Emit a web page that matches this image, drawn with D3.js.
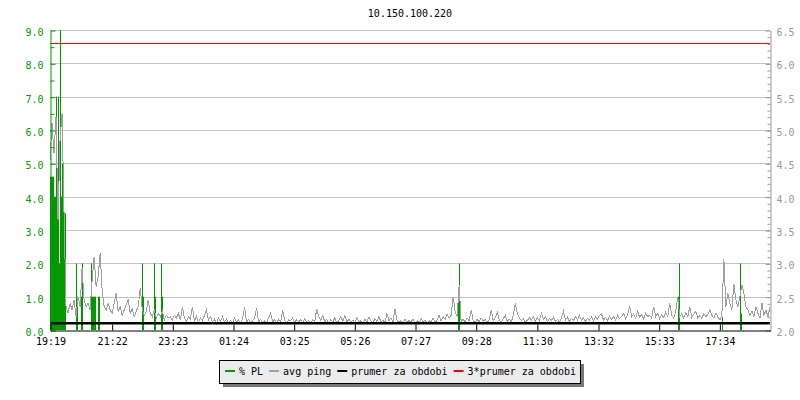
<!DOCTYPE html>
<html>
<head>
<meta charset="utf-8">
<script src="https://cdn.jsdelivr.net/npm/d3@7"></script>
<style>
  body { margin: 0; background: #fff; }
  text { font-family: "DejaVu Sans Mono", monospace; font-size: 10px; }
</style>
</head>
<body>
<div id="vis"></div>
<script>
// chart data
var title = "10.150.100.220";
var startTime = "19:19";
var spanMinutes = 1436;
var sampleStep = 4; // minutes between avg ping samples

var tickLabels = ["19:19", "21:22", "23:23", "01:24", "03:25", "05:26",
                  "07:27", "09:28", "11:30", "13:32", "15:33", "17:34"];

// avg ping (ms), one value every 4 minutes
var avgPing = [
  4.55, 5.10, 4.65, 5.20, 3.65, 4.85, 5.25, 3.75, 2.35, 2.25, 2.40, 2.30, 2.45, 2.20, 2.50, 2.35, 2.93, 2.45, 2.35, 2.40, 2.30, 2.75, 3.10, 2.65, 2.80, 3.15, 2.60, 2.35, 2.30, 2.40,
  2.30, 2.25, 2.40, 2.55, 2.28, 2.35, 2.22, 2.30, 2.38, 2.45, 2.25, 2.32, 2.20, 2.28, 2.35, 2.63, 2.30, 2.22, 2.28, 2.45, 2.25, 2.20, 2.30, 2.18, 2.25, 2.20, 2.28, 2.15, 2.22, 2.18,
  2.20, 2.15, 2.22, 2.18, 2.25, 2.15, 2.35, 2.18, 2.12, 2.20, 2.16, 2.35, 2.14, 2.20, 2.12, 2.18, 2.14, 2.22, 2.30, 2.15, 2.20, 2.12, 2.16, 2.10, 2.18, 2.13, 2.20, 2.12, 2.16, 2.11,
  2.14, 2.10, 2.18, 2.12, 2.15, 2.10, 2.17, 2.35, 2.12, 2.16, 2.10, 2.14, 2.18, 2.33, 2.12, 2.16, 2.10, 2.14, 2.11, 2.18, 2.25, 2.12, 2.15, 2.10, 2.16, 2.12, 2.30, 2.14, 2.11, 2.15,
  2.14, 2.18, 2.11, 2.16, 2.12, 2.15, 2.10, 2.17, 2.12, 2.14, 2.10, 2.16, 2.12, 2.32, 2.20, 2.14, 2.22, 2.12, 2.16, 2.10, 2.15, 2.12, 2.18, 2.11, 2.14, 2.20, 2.13, 2.22, 2.12, 2.16,
  2.12, 2.15, 2.10, 2.18, 2.12, 2.14, 2.10, 2.16, 2.12, 2.19, 2.14, 2.11, 2.17, 2.13, 2.20, 2.12, 2.15, 2.11, 2.25, 2.14, 2.18, 2.12, 2.32, 2.15, 2.11, 2.14, 2.10, 2.16, 2.12, 2.14,
  2.12, 2.16, 2.10, 2.14, 2.11, 2.17, 2.12, 2.15, 2.10, 2.14, 2.12, 2.18, 2.11, 2.15, 2.22, 2.14, 2.20, 2.16, 2.24, 2.18, 2.22, 2.50, 2.28, 2.20, 2.68, 2.12, 2.16, 2.12, 2.18, 2.14,
  2.30, 2.14, 2.11, 2.16, 2.12, 2.18, 2.13, 2.16, 2.11, 2.15, 2.30, 2.14, 2.18, 2.27, 2.15, 2.12, 2.17, 2.22, 2.13, 2.16, 2.12, 2.22, 2.40, 2.25, 2.18, 2.14, 2.17, 2.12, 2.15, 2.18,
  2.15, 2.20, 2.13, 2.18, 2.14, 2.25, 2.16, 2.20, 2.12, 2.17, 2.14, 2.19, 2.13, 2.16, 2.12, 2.18, 2.28, 2.15, 2.19, 2.13, 2.17, 2.14, 2.20, 2.15, 2.22, 2.14, 2.18, 2.13, 2.17, 2.15,
  2.19, 2.14, 2.20, 2.16, 2.22, 2.24, 2.15, 2.19, 2.14, 2.21, 2.16, 2.20, 2.15, 2.22, 2.17, 2.20, 2.25, 2.17, 2.22, 2.36, 2.20, 2.24, 2.18, 2.28, 2.19, 2.23, 2.17, 2.25, 2.20, 2.22,
  2.18, 2.35, 2.20, 2.25, 2.17, 2.23, 2.19, 2.27, 2.20, 2.40, 2.22, 2.18, 2.28, 2.50, 2.20, 2.24, 2.18, 2.26, 2.20, 2.35, 2.19, 2.24, 2.28, 2.18, 2.22, 2.17, 2.25, 2.20, 2.23, 2.30,
  2.22, 2.18, 2.25, 2.20, 2.15, 2.22, 3.07, 2.35, 2.55, 2.40, 2.30, 2.69, 2.45, 2.35, 2.50, 2.68, 2.55, 2.35, 2.30, 2.22, 2.28, 2.20, 2.35, 2.25, 2.18, 2.40, 2.22, 2.30, 2.20, 2.35
];

// packet loss (%), minutes after start where it was non zero
var plMinutes = [0, 2, 4, 6, 8, 10, 12, 14, 16, 18, 20, 22, 24, 26, 28, 30,
                 52, 54, 62, 64, 82, 84, 86, 88, 90, 96, 98,
                 184, 186, 208, 210, 222, 224,
                 814, 816, 1252, 1254, 1340, 1376, 1378];
var plValues  = [4.6, 4.6, 4.6, 4.6, 4.0, 4.0, 7.0, 4.0, 7.0, 2.0, 9.0, 4.0, 5.0, 4.0, 3.5, 3.5,
                 2.0, 1.0, 1.0, 2.0, 2.0, 1.0, 1.0, 1.0, 1.0, 1.0, 1.0,
                 2.0, 1.0, 2.0, 1.0, 2.0, 1.0,
                 1.0, 2.0, 1.0, 2.0, 0.4, 2.0, 0.5];

var periodMean = 2.1;

var legendLabels = ["% PL", "avg ping", "prumer za obdobi", "3*prumer za obdobi"];
var legendColors = ["#009900", "#a0a0a0", "#000000", "#ff0000"];

// layout
var width = 800, height = 400;
var margin = {top: 30, right: 30, bottom: 70, left: 50};
var plotRight = width - margin.right;
var plotBottom = height - margin.bottom;

var green = "#009900", gray = "#a0a0a0";

function parseHM(s) {
    var p = s.split(":");
    return new Date(2020, 0, 1, +p[0], +p[1]);
}
var t0 = parseHM(startTime);
function addMin(d, m) { return new Date(d.getTime() + m * 60000); }

var tickDates = tickLabels.map(function(s) {
    var d = parseHM(s);
    if (d < t0) d = addMin(d, 1440);
    return d;
});

var x = d3.scaleTime()
    .domain([t0, addMin(t0, spanMinutes)])
    .range([margin.left, plotRight]);
var yL = d3.scaleLinear().domain([0, 9]).range([plotBottom, margin.top]);
var yR = d3.scaleLinear().domain([2, 6.5]).range([plotBottom, margin.top]);

var svg = d3.select("#vis").append("svg")
    .attr("width", width)
    .attr("height", height);

// title
svg.append("text")
    .attr("x", (margin.left + plotRight) / 2)
    .attr("y", 16.5)
    .attr("text-anchor", "middle")
    .attr("fill", "#000")
    .text(title);

// horizontal grid
svg.append("g")
    .selectAll("line")
    .data(d3.range(1, 10))
    .enter().append("line")
    .attr("x1", margin.left)
    .attr("x2", plotRight)
    .attr("y1", function(d) { return Math.round(yL(d)) + 0.5; })
    .attr("y2", function(d) { return Math.round(yL(d)) + 0.5; })
    .attr("stroke", "#c4c4c4");

// packet loss bars
svg.append("g")
    .selectAll("rect")
    .data(plMinutes.map(function(m, i) { return {t: addMin(t0, m), v: plValues[i]}; }))
    .enter().append("rect")
    .attr("x", function(d) { return Math.round(x(d.t)); })
    .attr("width", 1)
    .attr("y", function(d) { return yL(d.v); })
    .attr("height", function(d) { return yL(0) - yL(d.v); })
    .attr("fill", green);

// avg ping line
var pingLine = d3.line()
    .x(function(d, i) { return x(addMin(t0, i * sampleStep)); })
    .y(function(d) { return yR(d); });

svg.append("path")
    .datum(avgPing)
    .attr("d", pingLine)
    .attr("fill", "none")
    .attr("stroke", gray)
    .attr("stroke-width", 1)
    .attr("shape-rendering", "crispEdges");

// mean and 3*mean
svg.append("line")
    .attr("x1", margin.left).attr("x2", plotRight)
    .attr("y1", yR(periodMean)).attr("y2", yR(periodMean))
    .attr("stroke", "#000").attr("stroke-width", 2.5);

svg.append("line")
    .attr("x1", margin.left).attr("x2", plotRight)
    .attr("y1", Math.round(yR(3 * periodMean)) + 0.5).attr("y2", Math.round(yR(3 * periodMean)) + 0.5)
    .attr("stroke", "#ff0000").attr("stroke-width", 1);

// left axis (packet loss)
var leftMinor = svg.append("g")
    .attr("transform", "translate(" + (margin.left + 0.5) + ",0.5)")
    .call(d3.axisLeft(yL).tickValues(d3.range(0.5, 9, 1)).tickSize(-4).tickFormat(""));
leftMinor.select(".domain").remove();
leftMinor.selectAll("line").attr("stroke", green);

var leftAxis = svg.append("g")
    .attr("transform", "translate(" + (margin.left + 0.5) + ",0.5)")
    .call(d3.axisLeft(yL).ticks(9).tickSize(-5).tickSizeOuter(0).tickPadding(7).tickFormat(d3.format(".1f")));
leftAxis.select(".domain").attr("stroke", green);
leftAxis.selectAll("line").attr("stroke", green);
leftAxis.selectAll("text").attr("fill", green).attr("dy", "0.5em")
    .style("font-family", '"DejaVu Sans Mono", monospace').style("font-size", "10px");

// right axis (avg ping)
var rightMinor = svg.append("g")
    .attr("transform", "translate(" + (plotRight + 0.5) + ",0.5)")
    .call(d3.axisRight(yR).tickValues(d3.range(21, 65).map(function(d) { return d / 10; })).tickSize(-3).tickFormat(""));
rightMinor.select(".domain").remove();
rightMinor.selectAll("line").attr("stroke", "#999");

var rightAxis = svg.append("g")
    .attr("transform", "translate(" + (plotRight + 0.5) + ",0.5)")
    .call(d3.axisRight(yR).tickValues(d3.range(2, 6.51, 0.5)).tickSize(-5).tickSizeOuter(0).tickPadding(6).tickFormat(d3.format(".1f")));
rightAxis.select(".domain").attr("stroke", "#999");
rightAxis.selectAll("line").attr("stroke", "#999");
rightAxis.selectAll("text").attr("fill", "#999").attr("dy", "0.5em")
    .style("font-family", '"DejaVu Sans Mono", monospace').style("font-size", "10px");

// time axis
var xAxis = svg.append("g")
    .attr("transform", "translate(0.5," + (plotBottom + 0.5) + ")")
    .call(d3.axisBottom(x).tickValues(tickDates).tickSize(-6).tickSizeOuter(0).tickPadding(7.5)
        .tickFormat(function(d, i) { return tickLabels[i]; }));
xAxis.select(".domain").attr("stroke", "#000");
xAxis.selectAll("line").attr("stroke", "#000");
xAxis.selectAll("text").attr("fill", "#000")
    .style("font-family", '"DejaVu Sans Mono", monospace').style("font-size", "10px");

// legend
var legend = svg.append("g");
var swatch = 10, gapText = 4, gapItem = 6, pad = 5;
var items = legend.selectAll("g")
    .data(legendLabels)
    .enter().append("g");
var cursor = 0;
items.each(function(d, i) {
    var g = d3.select(this);
    g.append("line")
        .attr("x1", cursor).attr("x2", cursor + swatch)
        .attr("y1", 0).attr("y2", 0)
        .attr("stroke", legendColors[i]).attr("stroke-width", 2);
    var t = g.append("text")
        .attr("x", cursor + swatch + gapText)
        .attr("y", 4)
        .attr("fill", "#000")
        .text(d);
    cursor += swatch + gapText + t.node().getComputedTextLength() + gapItem;
});
var legendW = cursor - gapItem + 2 * pad;
var legendX = Math.round(width / 2 - legendW / 2);
var legendY = 360;
legend.insert("rect", ":first-child")
    .attr("x", -pad - 0.5).attr("y", -10.5)
    .attr("width", legendW).attr("height", 23)
    .attr("fill", "#ececec").attr("stroke", "#000");
legend.insert("rect", ":first-child")
    .attr("x", -pad + 3).attr("y", -7)
    .attr("width", legendW).attr("height", 23)
    .attr("fill", "#777");
legend.attr("transform", "translate(" + (legendX + pad) + "," + (legendY + 11) + ")");
</script>
</body>
</html>
